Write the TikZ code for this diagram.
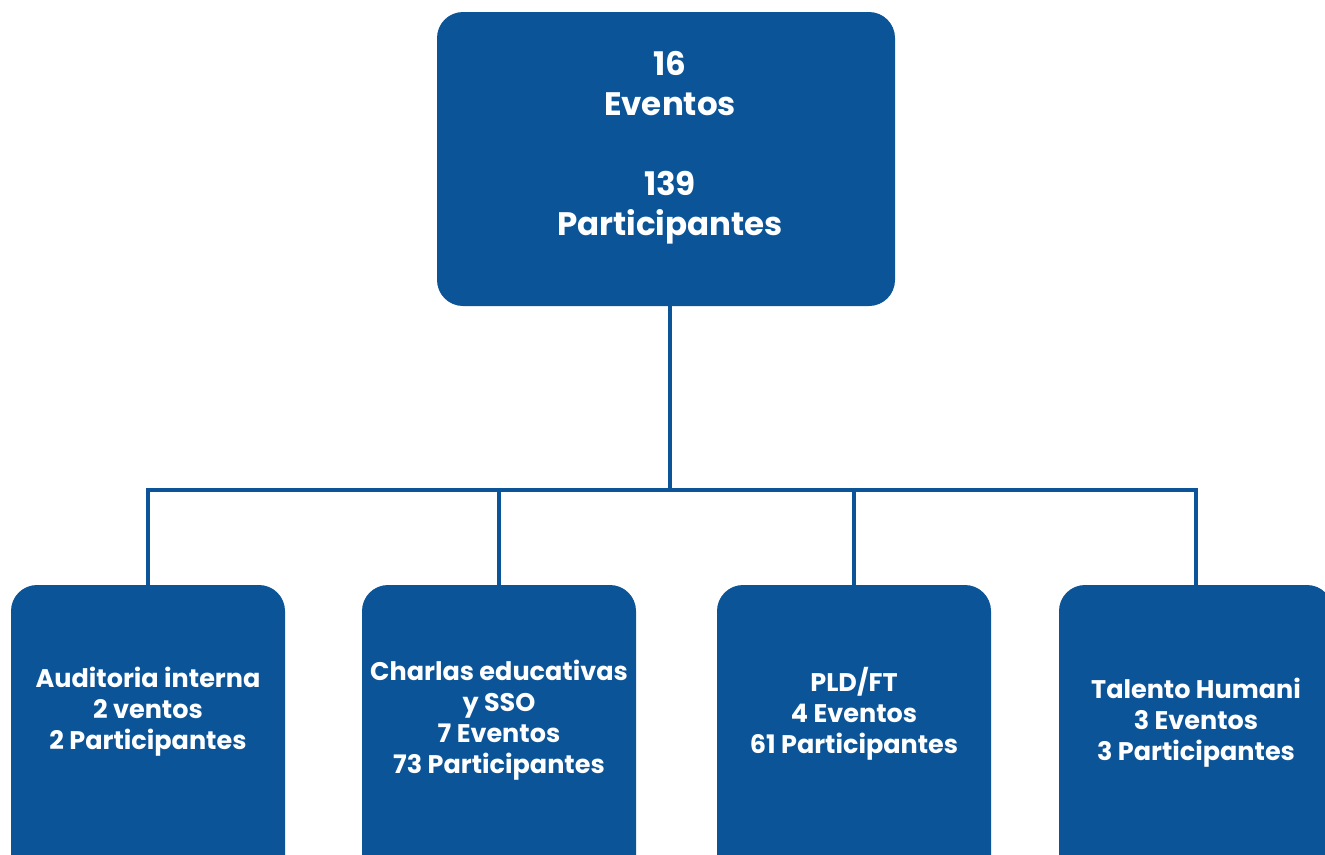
\documentclass[tikz,border=0pt]{standalone}
\usepackage{fontspec}
\setmainfont{Poppins}
\definecolor{boxblue}{HTML}{0B5497}
\tikzset{
  box/.style={fill=boxblue, draw=none, rounded corners=26pt},
  lbl/.style={text=white, font=\bfseries\fontsize{25.5}{31}\selectfont, align=center, inner sep=0pt},
  toplbl/.style={text=white, font=\bfseries\fontsize{32.5}{40}\selectfont, align=center, inner sep=0pt},
  conn/.style={draw=boxblue, line width=4pt}
}
\begin{document}
\begin{tikzpicture}[x=1pt,y=-1pt]
\useasboundingbox (0,0) rectangle (1325,854);
\clip (0,0) rectangle (1325,854);
\fill[box] (437,12) rectangle (895,306);
\node[coordinate] (topb) at (670,306) {};
\node[toplbl] (top) at (670,148) {16\\Eventos\\[40pt]139\\Participantes};
\fill[box] (11,585) rectangle (285,900);
\fill[box] (362,585) rectangle (636,900);
\fill[box] (717,585) rectangle (991,900);
\fill[box] (1059,585) rectangle (1333,900);
\node[coordinate] (b1) at (148,585) {};
\node[coordinate] (b2) at (499,585) {};
\node[coordinate] (b3) at (854,585) {};
\node[coordinate] (b4) at (1196,585) {};
\coordinate (j) at (670,490);
\node[lbl] (t1) at (148,712) {Auditoria interna\\2 ventos\\2 Participantes};
\node[lbl] (t2) at (499,720) {Charlas educativas\\y SSO\\7 Eventos\\73 Participantes};
\node[lbl] (t3) at (854,714) {PLD/FT\\4 Eventos\\61 Participantes};
\node[lbl] (t4) at (1196,723) {Talento Humani\\3 Eventos\\3 Participantes};
\draw[conn] (topb) -- (j);
\draw[conn] (b1) |- (j);
\draw[conn] (b4) |- (j);
\draw[conn] (b2) -- (b2 |- j);
\draw[conn] (b3) -- (b3 |- j);
\end{tikzpicture}
\end{document}
